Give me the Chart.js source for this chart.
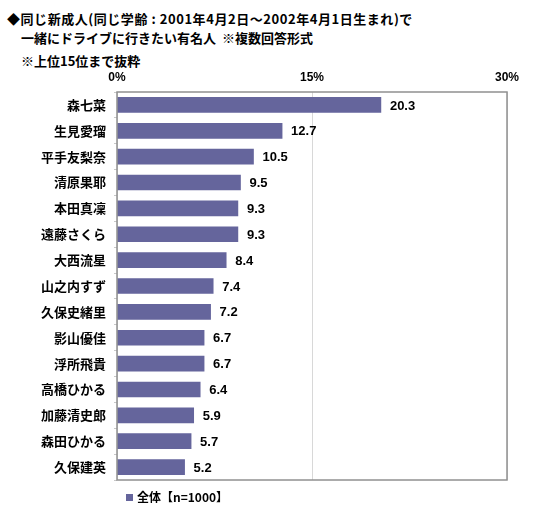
<!DOCTYPE html>
<html>
<head>
<meta charset="utf-8">
<script src="https://cdn.jsdelivr.net/npm/chart.js@4"></script>
<style>
  body { margin: 0; background: #fff; }
  #wrap { position: relative; width: 550px; height: 505px; font-family: "Noto Sans CJK JP", sans-serif; }
  .t { position: absolute; font-weight: bold; font-size: 13px; color: #000; white-space: nowrap; }
  #legend { position: absolute; left: 126px; top: 488px; font-weight: bold; font-size: 12px; }
  #legend span { display: inline-block; width: 7px; height: 7px; background: #65659c; margin-right: 4px; vertical-align: 1px; }
  canvas { position: absolute; left: 0; top: 0; }
</style>
</head>
<body>
<div id="wrap">
  <div class="t" style="left:7px;top:9px;letter-spacing:0.55px;">◆同じ新成人(同じ学齢 : 2001年4月2日～2002年4月1日生まれ)で</div>
  <div class="t" style="left:21px;top:28px;">一緒にドライブに行きたい有名人&nbsp;&nbsp;※複数回答形式</div>
  <div class="t" style="left:21px;top:51px;">※上位15位まで抜粋</div>
  <canvas id="barChart" width="550" height="505"></canvas>
  <div id="legend"><span></span>全体【n=1000】</div>
</div>
<script>
const names = ["森七菜", "生見愛瑠", "平手友梨奈", "清原果耶", "本田真凜", "遠藤さくら", "大西流星",
  "山之内すず", "久保史緒里", "影山優佳", "浮所飛貴", "高橋ひかる", "加藤清史郎", "森田ひかる", "久保建英"];
const values = [20.3, 12.7, 10.5, 9.5, 9.3, 9.3, 8.4, 7.4, 7.2, 6.7, 6.7, 6.4, 5.9, 5.7, 5.2];
const tickValues = [0, 15, 30];

const valueLabels = {
  id: "valueLabels",
  afterDatasetsDraw(chart) {
    let ctx = chart.ctx;
    ctx.save();
    ctx.font = "bold 13px 'Liberation Sans', Arial, sans-serif";
    ctx.fillStyle = "#000";
    ctx.textBaseline = "middle";
    chart.getDatasetMeta(0).data.forEach((bar, i) => {
      ctx.fillText(values[i].toFixed(1), bar.x + 9, bar.y + 1);
    });
    ctx.restore();
  }
};

const frame = {
  id: "frame",
  afterDraw(chart) {
    let a = chart.chartArea, ctx = chart.ctx;
    ctx.save();
    ctx.strokeStyle = "#909090";
    ctx.lineWidth = 1.5;
    ctx.strokeRect(a.left, a.top, a.right - a.left, a.bottom - a.top);
    ctx.restore();
  }
};

new Chart(document.getElementById("barChart").getContext("2d"), {
  type: "bar",
  data: {
    labels: names,
    datasets: [{
      label: "全体【n=1000】",
      data: values,
      backgroundColor: "#65659c",
      barThickness: 15
    }]
  },
  options: {
    indexAxis: "y",
    responsive: false,
    animation: false,
    layout: { padding: { left: 0, right: 43, top: 62, bottom: 25 } },
    plugins: { legend: { display: false }, tooltip: { enabled: false } },
    scales: {
      x: {
        position: "top",
        min: 0, max: 30,
        afterBuildTicks: s => { s.ticks = tickValues.map(v => ({ value: v })); },
        afterFit: s => { s.height = 30; },
        border: { display: false },
        grid: { color: "#d8d8d8", drawTicks: false },
        ticks: {
          padding: 7,
          color: "#000",
          font: { family: "'Liberation Sans', Arial, sans-serif", weight: "bold", size: 12 },
          callback: v => v + "%"
        }
      },
      y: {
        afterFit: s => { s.width = 117; },
        border: { display: false },
        grid: { drawOnChartArea: false, offset: true, tickLength: 3, color: "#c8c8c8" },
        ticks: {
          padding: 8,
          color: "#000",
          font: { family: "'Noto Sans CJK JP'", weight: "bold", size: 13 }
        }
      }
    }
  },
  plugins: [valueLabels, frame]
});
</script>
</body>
</html>
